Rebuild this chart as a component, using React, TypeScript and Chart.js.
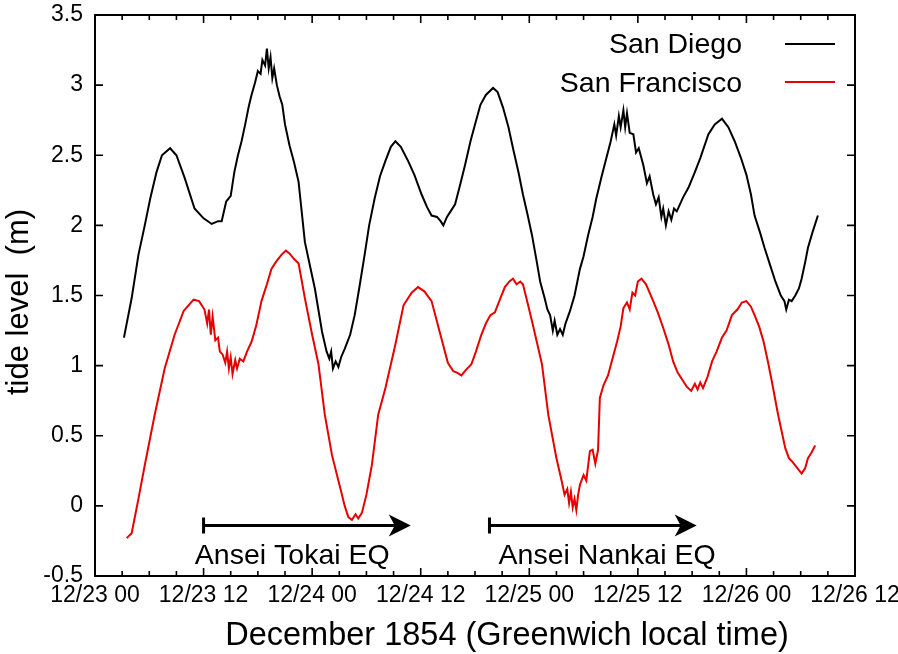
import { useEffect, useRef } from "react";
import { Chart, registerables } from "chart.js";

Chart.register(...registerables);

// ---------- data (hours since 12/23 00, tide level in m) ----------
const sdHours = [
  3.2, 4.05, 4.8, 5.5, 6.1, 6.8, 7.4, 8.3, 9.0, 9.9, 11.0, 12.0, 12.9, 13.6, 14.0, 14.5,
  15.0, 15.4, 15.8, 16.2, 16.6, 17.0, 17.3, 17.7, 18.0, 18.3, 18.5, 18.8, 19.0, 19.2, 19.4,
  19.6, 19.8, 20.1, 20.4, 20.7, 21.0, 21.5, 22.0, 22.5, 23.2, 23.8, 24.3, 25.1, 25.6, 25.9,
  26.1, 26.3, 26.6, 26.9, 27.2, 27.6, 28.2, 28.7, 29.2, 29.8, 30.3, 30.9, 31.5, 32.1, 32.7,
  33.2, 33.8, 34.6, 35.3, 36.1, 36.7, 37.2, 37.8, 38.2, 38.5, 38.9, 39.3, 39.8, 40.4, 40.9,
  41.5, 42.0, 42.6, 43.2, 44.0, 44.5, 45.1, 45.7, 46.2, 46.8, 47.3, 47.8, 48.3, 48.8, 49.2,
  49.7, 50.0, 50.3, 50.6, 50.8, 51.1, 51.4, 51.7, 52.0, 52.5, 53.0, 53.6, 54.0, 54.5, 55.0,
  55.4, 56.0, 56.6, 57.0, 57.4, 57.6, 57.9, 58.1, 58.4, 58.6, 58.8, 59.1, 59.5, 59.8, 60.1,
  60.6, 61.0, 61.3, 61.7, 62.0, 62.3, 62.6, 62.8, 63.1, 63.4, 63.7, 64.0, 64.3, 65.0, 65.6,
  66.3, 66.9, 67.8, 68.5, 69.3, 70.0, 70.7, 71.4, 72.0, 72.5, 72.9, 73.5, 74.0, 74.6, 75.2,
  75.8, 76.2, 76.4, 76.7, 77.0, 77.4, 77.8, 78.1, 78.5, 78.8, 79.3, 79.9,
];
const sdLevels = [
  1.2, 1.48, 1.79, 2.0, 2.19, 2.38, 2.5, 2.55, 2.5, 2.34, 2.12, 2.05, 2.01, 2.03, 2.03, 2.17,
  2.21, 2.38, 2.5, 2.6, 2.72, 2.85, 2.93, 3.02, 3.1, 3.08, 3.18, 3.14, 3.26, 3.12, 3.2,
  3.05, 3.12, 3.0, 2.92, 2.86, 2.72, 2.57, 2.45, 2.31, 1.88, 1.7, 1.55, 1.24, 1.1, 1.05,
  1.1, 0.98, 1.03, 0.99, 1.06, 1.12, 1.22, 1.36, 1.55, 1.79, 2.0, 2.19, 2.35, 2.46, 2.56,
  2.6, 2.56, 2.46, 2.36, 2.22, 2.13, 2.07, 2.06, 2.03, 2.0, 2.06, 2.1, 2.15, 2.3, 2.43,
  2.6, 2.72, 2.86, 2.93, 2.98, 2.95, 2.84, 2.7, 2.55, 2.38, 2.22, 2.08, 1.93, 1.75, 1.6,
  1.48, 1.4, 1.36, 1.25, 1.32, 1.22, 1.26, 1.22, 1.3, 1.39, 1.5, 1.69, 1.78, 1.93, 2.06,
  2.19, 2.35, 2.5, 2.6, 2.72, 2.64, 2.78, 2.7, 2.82, 2.7, 2.8, 2.66, 2.65, 2.52, 2.55,
  2.43, 2.3, 2.35, 2.22, 2.15, 2.2, 2.06, 2.12, 2.0, 2.1, 2.04, 2.12, 2.1, 2.2, 2.27,
  2.38, 2.48, 2.65, 2.72, 2.76, 2.7, 2.6, 2.48, 2.36, 2.22, 2.07, 1.95, 1.84, 1.72, 1.6,
  1.5, 1.46, 1.4, 1.47, 1.46, 1.5, 1.55, 1.62, 1.74, 1.84, 1.95, 2.07,
];

const sfHours = [
  3.5, 4.05, 4.8, 5.5, 6.6, 7.7, 8.8, 9.8, 10.9, 11.5, 11.8, 12.1, 12.4, 12.6, 12.8, 13.0,
  13.3, 13.6, 13.8, 14.1, 14.4, 14.6, 14.8, 15.0, 15.2, 15.5, 15.7, 16.0, 16.4, 16.8, 17.3,
  17.8, 18.4, 19.0, 19.5, 20.0, 20.6, 21.1, 21.5, 22.0, 22.5, 23.2, 24.0, 24.7, 25.4, 26.2,
  27.1, 27.6, 28.0, 28.4, 28.8, 29.1, 29.5, 30.0, 30.6, 31.3, 32.1, 33.2, 34.1, 35.0, 35.7,
  36.4, 37.2, 38.1, 39.0, 39.6, 40.0, 40.5, 41.0, 41.6, 42.1, 42.7, 43.2, 43.7, 44.2, 44.8,
  45.3, 45.8, 46.2, 46.6, 47.0, 47.3, 47.8, 48.4, 49.4, 50.1, 51.0, 51.5, 51.9, 52.2, 52.4,
  52.6, 52.8, 53.0, 53.2, 53.4, 53.6, 54.0, 54.3, 54.7, 55.0, 55.3, 55.6, 55.8, 56.2, 56.7,
  57.2, 57.7, 58.1, 58.4, 58.8, 59.1, 59.4, 59.7, 60.0, 60.4, 60.9, 61.3, 61.7, 62.2, 62.8,
  63.4, 63.9, 64.4, 65.0, 65.4, 65.9, 66.3, 66.6, 66.9, 67.2, 67.7, 68.2, 68.7, 69.3, 69.8,
  70.4, 71.0, 71.5, 72.0, 72.5, 72.9, 73.4, 73.9, 74.4, 74.8, 75.5, 76.3, 76.7, 77.0, 77.5,
  78.1, 78.5, 78.8, 79.2, 79.6,
];
const sfLevels = [
  -0.23, -0.195, 0.05, 0.29, 0.65, 0.98, 1.22, 1.39, 1.47, 1.46, 1.43, 1.4, 1.3, 1.4, 1.22, 1.35,
  1.18, 1.2, 1.1, 1.08, 1.02, 1.1, 0.98, 1.06, 0.94, 1.04, 0.98, 1.05, 1.03, 1.1, 1.17,
  1.28, 1.46, 1.58, 1.69, 1.74, 1.79, 1.82, 1.8, 1.76, 1.73, 1.48, 1.22, 1.01, 0.65, 0.36,
  0.13, 0.0, -0.08, -0.1, -0.06, -0.09, -0.05, 0.08, 0.29, 0.65, 0.84, 1.15, 1.43, 1.52, 1.56,
  1.53, 1.46, 1.24, 1.02, 0.96, 0.95, 0.93, 0.97, 1.01, 1.1, 1.22, 1.3, 1.36, 1.38, 1.48,
  1.56, 1.6, 1.62, 1.58, 1.6, 1.58, 1.45, 1.29, 1.01, 0.65, 0.34, 0.2, 0.08, 0.12, 0.02,
  0.1, -0.01, 0.05, -0.03, 0.08, 0.15, 0.22, 0.18, 0.39, 0.4, 0.3, 0.4, 0.77, 0.86, 0.93,
  1.05, 1.17, 1.28, 1.41, 1.45, 1.4, 1.52, 1.5, 1.6, 1.62, 1.58, 1.52, 1.46, 1.38, 1.27,
  1.15, 1.03, 0.95, 0.89, 0.85, 0.82, 0.87, 0.83, 0.88, 0.84, 0.92, 1.03, 1.1, 1.2, 1.25,
  1.36, 1.4, 1.45, 1.46, 1.42, 1.36, 1.28, 1.17, 1.02, 0.89, 0.65, 0.41, 0.34, 0.32, 0.28,
  0.23, 0.27, 0.34, 0.38, 0.43,
];

const seriesNames = ["San Diego", "San Francisco"];
const seriesColors = ["#000000", "#e60000"];

const xTickLabels = [
  "12/23 00", "12/23 12", "12/24 00", "12/24 12",
  "12/25 00", "12/25 12", "12/26 00", "12/26 12",
];
const xMin = 0;
const xMax = 84;
const xMajorStep = 12;
const xMinorStep = 3;

const yTickValues = [-0.5, 0, 0.5, 1, 1.5, 2, 2.5, 3, 3.5];
const yTickLabels = ["-0.5", "0", "0.5", "1", "1.5", "2", "2.5", "3", "3.5"];

const xTitle = "December 1854 (Greenwich local time)";
const yTitle = "tide level  (m)";

// earthquake annotations (hours)
const eqNames = ["Ansei Tokai EQ", "Ansei Nankai EQ"];
const eqStart = [12, 43.6];
const eqEnd = [34.9, 66.5];
const eqLabelHour = [21.8, 56.6];
const eqArrowLevel = -0.14;
const eqLabelLevel = -0.355;

const FONT = "'Liberation Sans', Arial, Helvetica, sans-serif";

const overlayPlugin = {
  id: "overlay",
  afterDraw(chart: any) {
    const { ctx, chartArea } = chart;
    const { left, right, top, bottom } = chartArea;
    const x = chart.scales.x;
    const y = chart.scales.y;
    ctx.save();

    // frame
    ctx.strokeStyle = "#000";
    ctx.lineWidth = 2;
    ctx.strokeRect(left, top, right - left, bottom - top);

    // inward ticks
    ctx.beginPath();
    ctx.lineWidth = 1.6;
    for (let h = xMin; h <= xMax; h += xMinorStep) {
      const px = x.getPixelForValue(h);
      const len = h % xMajorStep === 0 ? 8 : 5;
      ctx.moveTo(px, bottom);
      ctx.lineTo(px, bottom - len);
      ctx.moveTo(px, top);
      ctx.lineTo(px, top + len);
    }
    for (const v of yTickValues) {
      const py = y.getPixelForValue(v);
      ctx.moveTo(left, py);
      ctx.lineTo(left + 8, py);
      ctx.moveTo(right, py);
      ctx.lineTo(right - 8, py);
    }
    ctx.stroke();

    // legend
    ctx.font = `28.5px ${FONT}`;
    ctx.textAlign = "right";
    ctx.textBaseline = "alphabetic";
    const legendBase = [53, 92];
    const legendLineY = [44, 82];
    seriesNames.forEach((name, i) => {
      ctx.fillStyle = "#000";
      ctx.fillText(name, 742, legendBase[i]);
      ctx.strokeStyle = seriesColors[i];
      ctx.lineWidth = 2;
      ctx.beginPath();
      ctx.moveTo(785, legendLineY[i]);
      ctx.lineTo(835, legendLineY[i]);
      ctx.stroke();
    });

    // earthquake arrows
    ctx.strokeStyle = "#000";
    ctx.fillStyle = "#000";
    const ay = y.getPixelForValue(eqArrowLevel);
    const ty = y.getPixelForValue(eqLabelLevel);
    eqNames.forEach((name, i) => {
      const x0 = x.getPixelForValue(eqStart[i]);
      const x1 = x.getPixelForValue(eqEnd[i]);
      ctx.lineWidth = 3;
      ctx.beginPath();
      ctx.moveTo(x0, ay);
      ctx.lineTo(x1 - 14, ay);
      ctx.moveTo(x0, ay - 8);
      ctx.lineTo(x0, ay + 8);
      ctx.stroke();
      ctx.beginPath();
      ctx.moveTo(x1, ay);
      ctx.lineTo(x1 - 22, ay - 11);
      ctx.lineTo(x1 - 16, ay);
      ctx.lineTo(x1 - 22, ay + 11);
      ctx.closePath();
      ctx.fill();

      ctx.font = `28.5px ${FONT}`;
      ctx.textAlign = "center";
      ctx.textBaseline = "middle";
      ctx.fillText(name, x.getPixelForValue(eqLabelHour[i]), ty);
    });

    // axis titles
    ctx.fillStyle = "#000";
    ctx.textAlign = "center";
    ctx.textBaseline = "middle";
    ctx.font = `32.5px ${FONT}`;
    ctx.fillText(xTitle, 507, 636);
    ctx.font = `31px ${FONT}`;
    ctx.save();
    ctx.translate(19, 302);
    ctx.rotate(-Math.PI / 2);
    ctx.fillText(yTitle, 0, 0);
    ctx.restore();

    ctx.restore();
  },
};

export default function App() {
  const canvasRef = useRef<HTMLCanvasElement | null>(null);

  useEffect(() => {
    const canvas = canvasRef.current;
    if (!canvas) return;
    const toPoints = (hs: number[], vs: number[]) => hs.map((h, i) => ({ x: h, y: vs[i] }));
    const chart = new Chart(canvas, {
      type: "line",
      data: {
        datasets: [
          {
            label: seriesNames[0],
            data: toPoints(sdHours, sdLevels),
            borderColor: seriesColors[0],
            borderWidth: 2,
            pointRadius: 0,
            tension: 0,
            fill: false,
          },
          {
            label: seriesNames[1],
            data: toPoints(sfHours, sfLevels),
            borderColor: seriesColors[1],
            borderWidth: 2,
            pointRadius: 0,
            tension: 0,
            fill: false,
          },
        ],
      },
      options: {
        responsive: false,
        animation: false,
        layout: { padding: { left: 0, top: 15, right: 43, bottom: 0 } },
        plugins: {
          legend: { display: false },
          tooltip: { enabled: false },
          title: { display: false },
        },
        scales: {
          x: {
            type: "linear",
            min: xMin,
            max: xMax,
            grid: { display: false, drawTicks: false },
            border: { display: false },
            ticks: {
              stepSize: xMajorStep,
              autoSkip: false,
              maxRotation: 0,
              padding: 6,
              color: "#000",
              font: { family: FONT, size: 23 },
              callback: (v: any) => xTickLabels[Math.round(Number(v) / xMajorStep)] ?? "",
            },
            afterFit: (s: any) => {
              s.height = 78;
              s.paddingLeft = 0;
              s.paddingRight = 0;
            },
          },
          y: {
            type: "linear",
            min: -0.5,
            max: 3.5,
            grid: { display: false, drawTicks: false },
            border: { display: false },
            ticks: {
              stepSize: 0.5,
              padding: 12,
              color: "#000",
              font: { family: FONT, size: 23 },
              callback: (v: any) => {
                const idx = yTickValues.findIndex((t) => Math.abs(t - Number(v)) < 1e-6);
                return idx >= 0 ? yTickLabels[idx] : "";
              },
            },
            afterFit: (s: any) => {
              s.width = 95;
              s.paddingTop = 0;
              s.paddingBottom = 0;
            },
          },
        },
      },
      plugins: [overlayPlugin],
    });
    return () => chart.destroy();
  }, []);

  return (
    <div style={{ position: "fixed", left: 0, top: 0, width: 898, height: 654, background: "#fff" }}>
      <canvas ref={canvasRef} width={898} height={654} style={{ display: "block" }} />
    </div>
  );
}
